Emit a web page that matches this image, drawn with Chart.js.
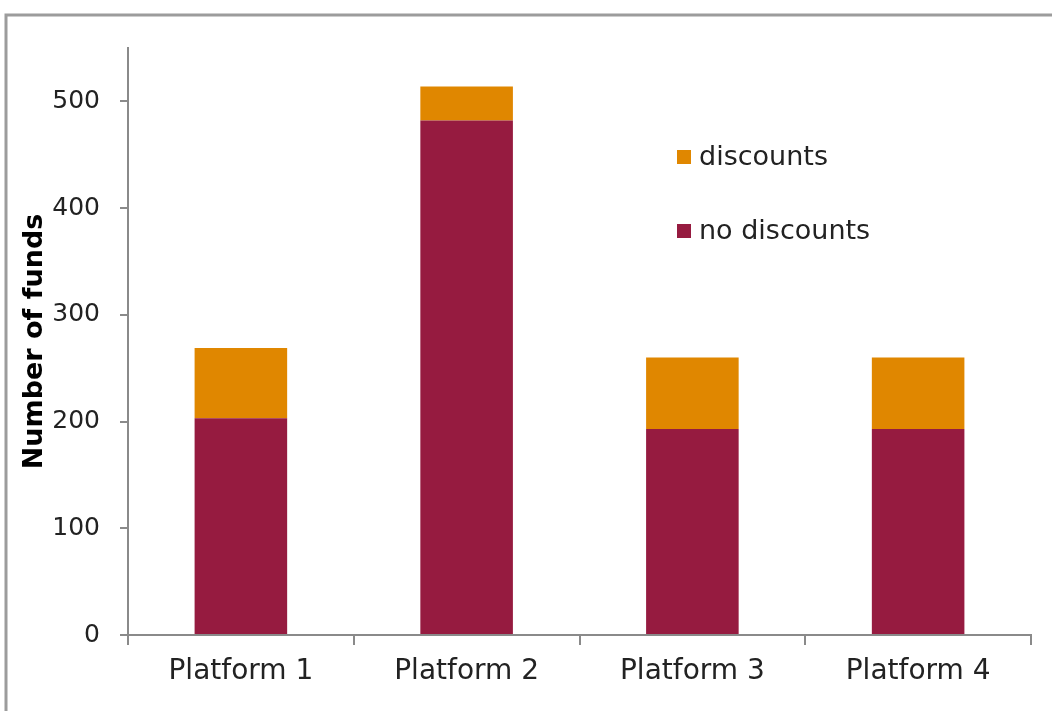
<!DOCTYPE html>
<html>
<head>
<meta charset="utf-8">
<script src="https://cdn.jsdelivr.net/npm/chart.js@4"></script>
<style>
  html, body { margin: 0; padding: 0; background: #fff; }
</style>
</head>
<body>
<canvas id="chart" width="1052" height="711"></canvas>
<script>
// data
const platforms = ['Platform 1', 'Platform 2', 'Platform 3', 'Platform 4'];
const noDiscounts = [203, 482, 193, 193];
const discounts = [66, 32, 67, 67];
const yTickValues = [0, 100, 200, 300, 400, 500];

const orange = '#E08700';
const maroon = '#961B40';
const axisGrey = '#8a8a8a';

// grey frame round the picture (top + left only)
const framePlugin = {
    id: 'frame',
    beforeDraw(chart) {
        const ctx = chart.ctx;
        ctx.save();
        ctx.strokeStyle = '#9c9c9c';
        ctx.lineWidth = 3;
        ctx.beginPath();
        ctx.moveTo(6, 711);
        ctx.lineTo(6, 15);
        ctx.lineTo(1052, 15);
        ctx.stroke();
        ctx.restore();
    }
};

// legend sitting inside the plot, discounts first
const legendPlugin = {
    id: 'innerLegend',
    afterDraw(chart) {
        const ctx = chart.ctx;
        const area = chart.chartArea;
        const x = area.left + 549;
        let y = area.top + 109;
        ctx.save();
        ctx.font = '27px "DejaVu Sans"';
        ctx.textBaseline = 'middle';
        const order = [1, 0];
        order.forEach(i => {
            const ds = chart.data.datasets[i];
            ctx.fillStyle = ds.backgroundColor;
            ctx.fillRect(x, y - 7, 14, 14);
            ctx.fillStyle = '#222';
            ctx.fillText(ds.label, x + 22, y + 1);
            y += 74;
        });
        ctx.restore();
    }
};

const ctx = document.getElementById('chart').getContext('2d');
new Chart(ctx, {
    type: 'bar',
    data: {
        labels: platforms,
        datasets: [
            {
                label: 'no discounts',
                data: noDiscounts,
                backgroundColor: maroon,
                barPercentage: 0.41,
                categoryPercentage: 1
            },
            {
                label: 'discounts',
                data: discounts,
                backgroundColor: orange,
                barPercentage: 0.41,
                categoryPercentage: 1
            }
        ]
    },
    options: {
        responsive: false,
        animation: false,
        layout: { padding: { top: 48, right: 21, left: 0, bottom: 0 } },
        plugins: {
            legend: { display: false },
            tooltip: { enabled: false }
        },
        scales: {
            x: {
                stacked: true,
                afterFit(scale) { scale.height = 76; },
                grid: {
                    drawOnChartArea: false,
                    offset: true,
                    tickLength: 10,
                    color: axisGrey,
                    lineWidth: 2
                },
                border: { color: axisGrey, width: 2 },
                ticks: {
                    color: '#222',
                    padding: 10,
                    font: { family: 'DejaVu Sans', size: 28 }
                }
            },
            y: {
                stacked: true,
                min: 0,
                max: 550,
                afterFit(scale) { scale.width = 128; },
                afterBuildTicks(scale) {
                    scale.ticks = yTickValues.map(v => ({ value: v }));
                },
                grid: {
                    drawOnChartArea: false,
                    tickLength: 8,
                    color: axisGrey,
                    lineWidth: 2
                },
                border: { color: axisGrey, width: 2 },
                ticks: {
                    color: '#222',
                    padding: 20,
                    font: { family: 'DejaVu Sans', size: 25 }
                },
                title: {
                    display: true,
                    text: 'Number of funds',
                    color: '#000',
                    padding: { top: 19, bottom: 0 },
                    font: { family: 'DejaVu Sans', size: 27, weight: 'bold' }
                }
            }
        }
    },
    plugins: [framePlugin, legendPlugin]
});
</script>
</body>
</html>
